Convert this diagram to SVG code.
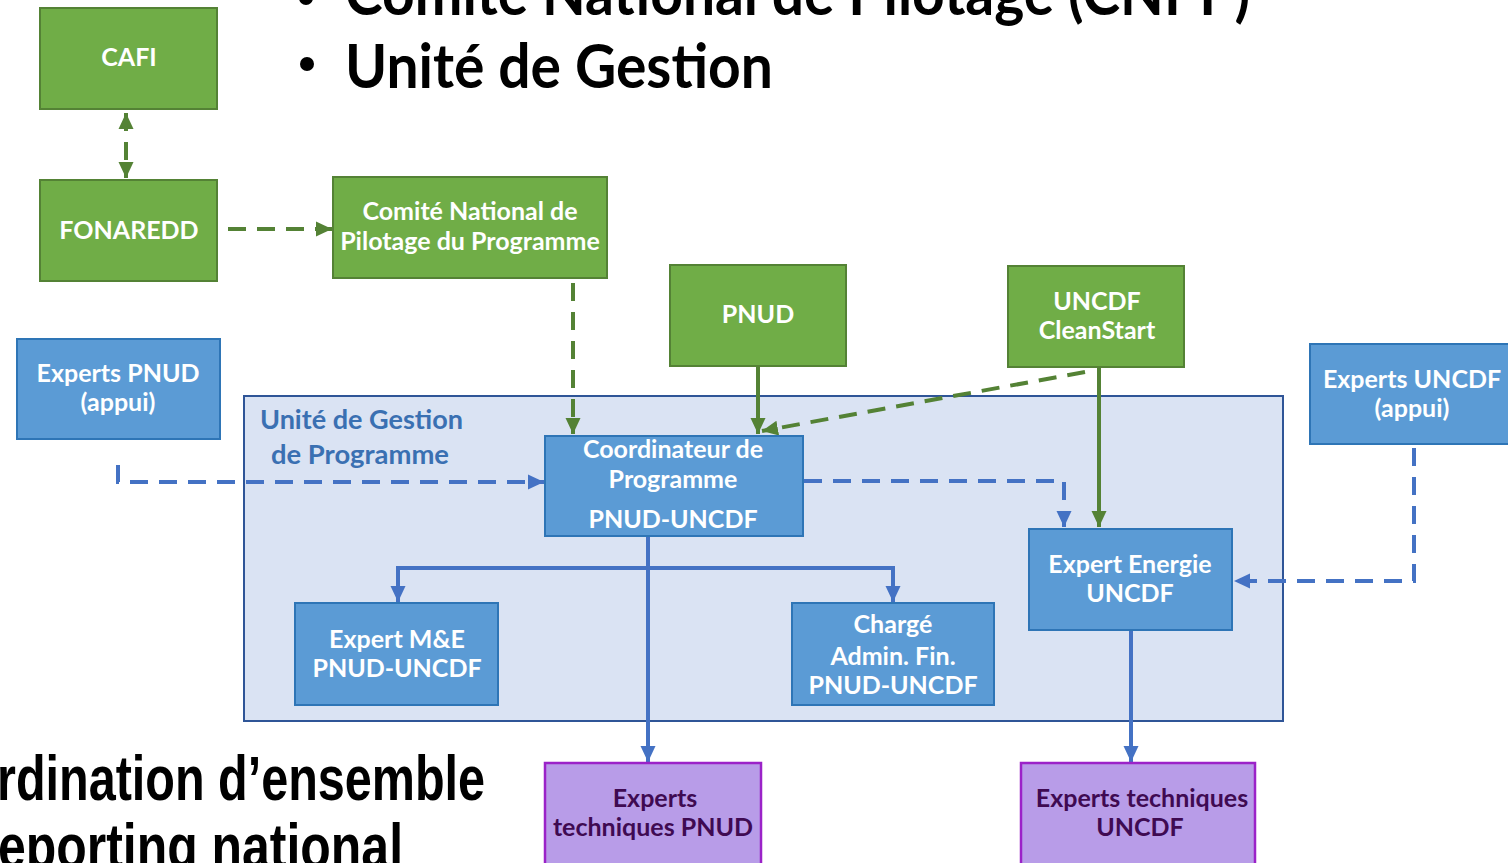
<svg xmlns="http://www.w3.org/2000/svg" width="1508" height="863" viewBox="0 0 1508 863">
<defs>
<style>
.g{fill:#70AD47;stroke:#548235;stroke-width:2}
.b{fill:#5B9BD5;stroke:#2E75B6;stroke-width:2}
.p{fill:#B89CE8;stroke:#9B22C8;stroke-width:2.5}
.t{font-family:Lato,"Open Sans",sans-serif;font-weight:bold;font-size:25px;fill:#fff;text-anchor:middle}
.tp{font-family:Lato,"Open Sans",sans-serif;font-weight:bold;font-size:25px;fill:#3F0A52;text-anchor:middle}
.gl{stroke:#548235;stroke-width:4;fill:none}
.bl{stroke:#4472C4;stroke-width:4;fill:none}
.d{stroke-dasharray:18 11}
.big{font-family:Lato,"Open Sans",sans-serif;font-weight:bold;font-size:62px;fill:#000}
.bot{font-family:"Liberation Sans",Arial,sans-serif;font-weight:bold;font-size:63px;fill:#000}
.lab{font-family:Lato,"Open Sans",sans-serif;font-weight:bold;font-size:26px;fill:#3A70B2}
</style>
<marker id="ag" markerUnits="userSpaceOnUse" markerWidth="18" markerHeight="18" viewBox="0 0 18 18" refX="16" refY="9" orient="auto-start-reverse"><path d="M0,1.5 L16,9 L0,16.5 Z" fill="#548235"/></marker>
<marker id="ab" markerUnits="userSpaceOnUse" markerWidth="18" markerHeight="18" viewBox="0 0 18 18" refX="16" refY="9" orient="auto-start-reverse"><path d="M0,1.5 L16,9 L0,16.5 Z" fill="#4472C4"/></marker>
</defs>
<rect width="1508" height="863" fill="#fff"/>

<g id="titles">
<circle cx="306" cy="-2" r="7" fill="#000"/>
<text class="big" x="345" y="15" textLength="905" lengthAdjust="spacingAndGlyphs">Comité National de Pilotage (CNPP)</text>
<circle cx="307" cy="64" r="7" fill="#000"/>
<text class="big" x="345" y="88" textLength="428" lengthAdjust="spacingAndGlyphs">Unité de Gestion</text>
<text class="bot" x="-3" y="800" textLength="488" lengthAdjust="spacingAndGlyphs">rdination d’ensemble</text>
<text class="bot" x="-2" y="868" textLength="405" lengthAdjust="spacingAndGlyphs">eporting national</text>
</g>

<g id="container">
<rect x="244" y="396" width="1039" height="325" fill="#DAE3F3" stroke="#2F5597" stroke-width="2"/>
<text class="lab" x="260" y="429" textLength="203" lengthAdjust="spacingAndGlyphs">Unité de Gestion</text>
<text class="lab" x="271" y="464" textLength="178" lengthAdjust="spacingAndGlyphs">de Programme</text>
</g>

<g id="connectors">
<line class="gl d" x1="126" y1="113" x2="126" y2="178" marker-start="url(#ag)" marker-end="url(#ag)"/>
<line class="gl d" x1="228" y1="229" x2="332" y2="229" marker-end="url(#ag)"/>
<line class="gl d" x1="573" y1="283" x2="573" y2="434" marker-end="url(#ag)"/>
<line class="gl" x1="758" y1="367" x2="758" y2="434" marker-end="url(#ag)"/>
<line class="gl d" x1="1085" y1="372" x2="762" y2="431" marker-end="url(#ag)"/>
<line class="gl" x1="1099" y1="368" x2="1099" y2="527" marker-end="url(#ag)"/>
<polyline class="bl d" points="118,465 118,482 544,482" marker-end="url(#ab)"/>
<polyline class="bl d" points="804,481 1064,481 1064,527" marker-end="url(#ab)"/>
<polyline class="bl d" points="1414,448 1414,581 1234,581" marker-end="url(#ab)"/>
<line class="bl" x1="648" y1="537" x2="648" y2="762" marker-end="url(#ab)"/>
<polyline class="bl" points="398,602 398,568 893,568 893,602" marker-start="url(#ab)" marker-end="url(#ab)"/>
<line class="bl" x1="1131" y1="631" x2="1131" y2="762" marker-end="url(#ab)"/>
</g>

<g id="cafi"><rect class="g" x="40" y="8" width="177" height="101"/><text class="t" x="129" y="66">CAFI</text></g>
<g id="fonaredd"><rect class="g" x="40" y="180" width="177" height="101"/><text class="t" x="129" y="239">FONAREDD</text></g>
<g id="cnpp"><rect class="g" x="333" y="177" width="274" height="101"/><text class="t" x="470" y="220">Comité National de</text><text class="t" x="470" y="250">Pilotage du Programme</text></g>
<g id="pnud"><rect class="g" x="670" y="265" width="176" height="101"/><text class="t" x="758" y="323">PNUD</text></g>
<g id="uncdf"><rect class="g" x="1008" y="266" width="176" height="101"/><text class="t" x="1097" y="310">UNCDF</text><text class="t" x="1097" y="339">CleanStart</text></g>
<g id="experts-pnud"><rect class="b" x="17" y="339" width="203" height="100"/><text class="t" x="118" y="382">Experts PNUD</text><text class="t" x="118" y="411" font-weight="normal">(appui)</text></g>
<g id="experts-uncdf"><rect class="b" x="1310" y="344" width="200" height="100"/><text class="t" x="1412" y="388">Experts UNCDF</text><text class="t" x="1412" y="417" font-weight="normal">(appui)</text></g>
<g id="coordinateur"><rect class="b" x="545" y="436" width="258" height="100"/><text class="t" x="673" y="458">Coordinateur de</text><text class="t" x="673" y="488">Programme</text><text class="t" x="673" y="528">PNUD-UNCDF</text></g>
<g id="expert-energie"><rect class="b" x="1029" y="529" width="203" height="101"/><text class="t" x="1130" y="573">Expert Energie</text><text class="t" x="1130" y="602">UNCDF</text></g>
<g id="expert-me"><rect class="b" x="295" y="603" width="203" height="102"/><text class="t" x="397" y="648">Expert M&amp;E</text><text class="t" x="397" y="677">PNUD-UNCDF</text></g>
<g id="charge-admin"><rect class="b" x="792" y="603" width="202" height="102"/><text class="t" x="893" y="633">Chargé</text><text class="t" x="893" y="665">Admin. Fin.</text><text class="t" x="893" y="694">PNUD-UNCDF</text></g>
<g id="experts-tech-pnud"><rect class="p" x="545" y="763" width="216" height="110"/><text class="tp" x="655" y="807">Experts</text><text class="tp" x="653" y="836">techniques PNUD</text></g>
<g id="experts-tech-uncdf"><rect class="p" x="1021" y="763" width="234" height="110"/><text class="tp" x="1142" y="807">Experts techniques</text><text class="tp" x="1140" y="836">UNCDF</text></g>
</svg>
